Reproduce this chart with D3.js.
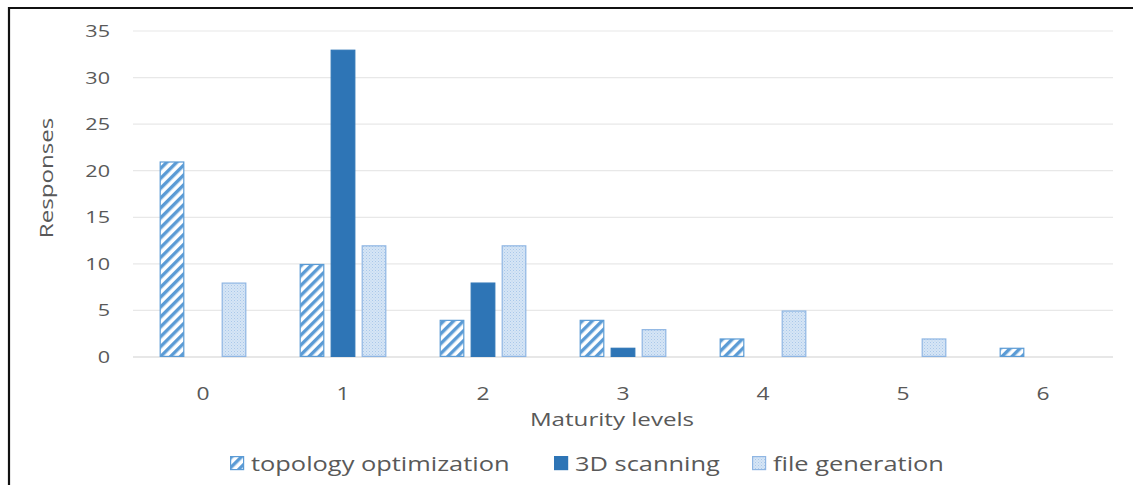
<!DOCTYPE html>
<html>
<head>
<meta charset="utf-8">
<script src="https://cdn.jsdelivr.net/npm/d3@7"></script>
<style>
  html, body { margin: 0; padding: 0; background: #fff; }
  svg { display: block; font-family: "Open Sans", "Liberation Sans", sans-serif; }
</style>
</head>
<body>
<svg id="chart" width="1133" height="485"></svg>
<script>
// Maturity levels on the x axis
const levels = ["0", "1", "2", "3", "4", "5", "6"];
const seriesNames = ["topology optimization", "3D scanning", "file generation"];
// Responses per maturity level
const topologyOptimization = [21, 10, 4, 4, 2, 0, 1];
const scanning3D = [0, 33, 8, 1, 0, 0, 0];
const fileGeneration = [8, 12, 12, 3, 5, 2, 0];
const yTicks = [0, 5, 10, 15, 20, 25, 30, 35];

const seriesValues = [topologyOptimization, scanning3D, fileGeneration];

const svg = d3.select("#chart");
const W = 1133, H = 485;
const plot = { left: 133, right: 1113, top: 31, bottom: 357 };
const textColor = "#595959";
const widen = 1.27; // horizontal stretch applied to the glyphs

// fill patterns
const defs = svg.append("defs");
const hatch = defs.append("pattern")
  .attr("id", "hatch").attr("patternUnits", "userSpaceOnUse")
  .attr("width", 7).attr("height", 7)
  .attr("patternTransform", "rotate(45)");
hatch.append("rect").attr("width", 7).attr("height", 7).attr("fill", "#ffffff");
hatch.append("rect").attr("width", 3.4).attr("height", 7).attr("fill", "#5b9bd5");

const dots = defs.append("pattern")
  .attr("id", "dots").attr("patternUnits", "userSpaceOnUse")
  .attr("width", 3).attr("height", 3);
dots.append("rect").attr("width", 3).attr("height", 3).attr("fill", "#d6e5f5");
dots.append("rect").attr("width", 1).attr("height", 1).attr("fill", "#a9c8ea");
dots.append("rect").attr("x", 1.5).attr("y", 1.5).attr("width", 1).attr("height", 1).attr("fill", "#b7d1ee");

const fills = ["url(#hatch)", "#2e75b6", "url(#dots)"];
const strokes = ["#5b9bd5", "#2e75b6", "#8fb6e3"];

// frame (left and top edges)
svg.append("path")
  .attr("d", `M9,${H} L9,8 L${W},8`)
  .attr("fill", "none").attr("stroke", "#111").attr("stroke-width", 2.2);

// scales
const x = d3.scaleBand().domain(levels)
  .range([plot.left, plot.right]).paddingInner(0.38).paddingOuter(0.19);
const xs = d3.scaleBand().domain(d3.range(seriesNames.length))
  .range([0, x.bandwidth()]).paddingInner(0.2);
const y = d3.scaleLinear().domain([0, 35]).range([plot.bottom, plot.top]);

// gridlines
svg.append("g")
  .selectAll("line").data(yTicks).join("line")
  .attr("x1", plot.left).attr("x2", plot.right)
  .attr("y1", d => y(d)).attr("y2", d => y(d))
  .attr("stroke", d => d === 0 ? "#d0d0d0" : "#e8e8e8").attr("stroke-width", 1.2);

// y axis labels
const yAxis = d3.axisLeft(y).tickValues(yTicks).tickSize(0).tickPadding(0);
svg.append("g")
  .attr("transform", `translate(110,0)`)
  .call(yAxis)
  .call(g => g.select(".domain").remove())
  .call(g => g.selectAll("text").attr("fill", textColor)
    .attr("transform", `scale(${widen},1)`)
    .style("font-size", "17px").style("font-family", "Open Sans, sans-serif"));

// x axis labels
const xAxis = d3.axisBottom(x).tickSize(0).tickPadding(0);
svg.append("g")
  .attr("transform", `translate(0,387)`)
  .call(xAxis)
  .call(g => g.select(".domain").remove())
  .call(g => g.selectAll("text").attr("fill", textColor)
    .attr("transform", `scale(${widen},1)`)
    .style("font-size", "18px").style("font-family", "Open Sans, sans-serif"));

// bars
const groups = svg.append("g").selectAll("g").data(seriesValues).join("g");
groups.each(function(vals, si) {
  d3.select(this).selectAll("rect").data(vals.map((v, i) => ({ v, lvl: levels[i] })))
    .join("rect")
    .filter(d => d.v > 0)
    .attr("x", d => x(d.lvl) + xs(si) + 0.6)
    .attr("y", d => y(d.v) + 0.6)
    .attr("width", xs.bandwidth() - 1.2)
    .attr("height", d => y(0) - y(d.v) - 1.2)
    .attr("fill", fills[si])
    .attr("stroke", strokes[si])
    .attr("stroke-width", 1.2);
});

// axis titles
svg.append("text")
  .attr("transform", `translate(612,426) scale(${widen},1)`)
  .attr("text-anchor", "middle").attr("fill", textColor)
  .style("font-size", "19px")
  .text("Maturity levels");

svg.append("text")
  .attr("transform", `translate(53,178) rotate(-90) scale(${widen},1)`)
  .attr("text-anchor", "middle").attr("fill", textColor)
  .style("font-size", "19px")
  .text("Responses");

// legend
const legendX = [230, 554, 752];
const legend = svg.append("g").selectAll("g").data(seriesNames).join("g")
  .attr("transform", (d, i) => `translate(${legendX[i]},456)`);
legend.append("rect")
  .attr("x", 0.6).attr("y", 0.6).attr("width", 13).attr("height", 13)
  .attr("fill", (d, i) => fills[i]).attr("stroke", (d, i) => strokes[i]).attr("stroke-width", 1.2);
legend.append("text")
  .attr("transform", `translate(21,15) scale(${widen},1)`)
  .attr("fill", textColor)
  .style("font-size", "20px")
  .text(d => d);
</script>
</body>
</html>
